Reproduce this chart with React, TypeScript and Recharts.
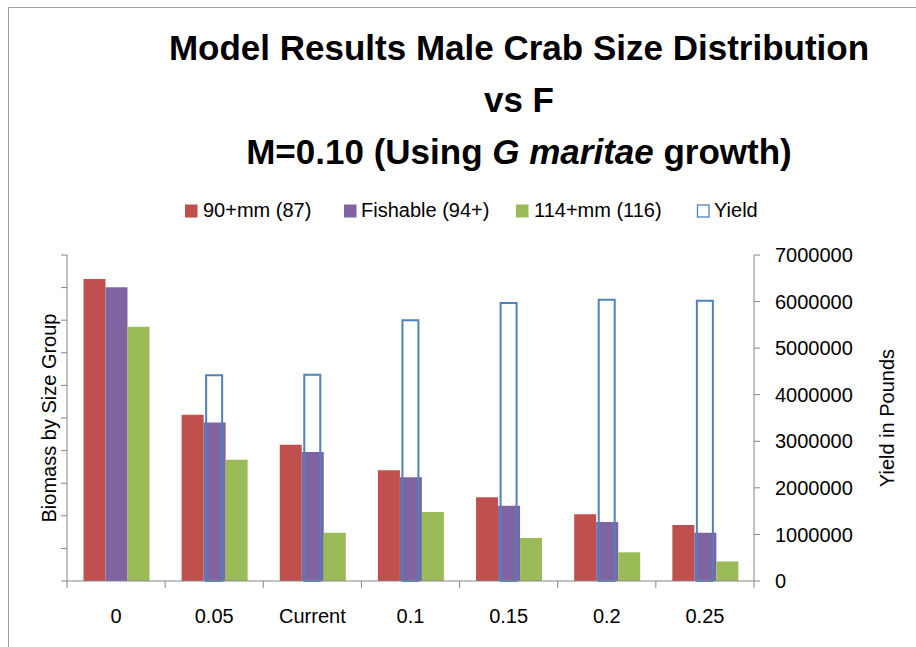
import React from "react"
import { BarChart, Bar, XAxis, YAxis } from "recharts"

const categories = ["0", "0.05", "Current", "0.1", "0.15", "0.2", "0.25"]
const biomass90 = [92.6, 51.0, 41.8, 34.0, 25.7, 20.5, 17.2]
const fishable94 = [90.1, 48.6, 39.6, 31.8, 23.1, 18.1, 14.8]
const biomass114 = [78.0, 37.2, 14.8, 21.2, 13.2, 8.8, 6.0]
const yieldLbs = [0, 4420000, 4430000, 5600000, 5970000, 6040000, 6020000]
const leftTicks = [0, 10, 20, 30, 40, 50, 60, 70, 80, 90, 100]
const rightTicks = [0, 1000000, 2000000, 3000000, 4000000, 5000000, 6000000, 7000000]

const data = categories.map((f, i) => ({
  f,
  b90: biomass90[i],
  fish: fishable94[i],
  b114: biomass114[i],
  yld: yieldLbs[i],
}))

const AXIS = "#868686"
const FONT = "'Liberation Sans', Arial, sans-serif"

const CatTick = (props: any) => {
  const { x, y, payload, index } = props
  const half = payload?.offset ?? 0
  return (
    <g>
      <line x1={x - half} y1={y} x2={x - half} y2={y + 7} stroke={AXIS} strokeWidth={1} />
      {index === categories.length - 1 && (
        <line x1={x + half} y1={y} x2={x + half} y2={y + 7} stroke={AXIS} strokeWidth={1} />
      )}
      <text x={x} y={y + 42} textAnchor="middle" fontSize={20} fontFamily={FONT} fill="#000">
        {payload.value}
      </text>
    </g>
  )
}

const legendItems = [
  { label: "90+mm (87)", color: "#C0504D", x: 185, tx: 203 },
  { label: "Fishable (94+)", color: "#8064A2", x: 344, tx: 361 },
  { label: "114+mm (116)", color: "#9BBB59", x: 516, tx: 534 },
]

export default function App() {
  return (
    <div style={{ position: "absolute", left: 0, top: 0, width: 916, height: 647, background: "#fff" }}>
      <BarChart
        width={916}
        height={647}
        data={data}
        margin={{ top: 255, right: 10, bottom: 16, left: 10 }}
        barGap={0}
        barCategoryGap="16.8%"
      >
        <XAxis
          xAxisId="cat"
          dataKey="f"
          height={50}
          interval={0}
          tickLine={false}
          tickSize={0}
          tickMargin={0}
          axisLine={{ stroke: AXIS }}
          tick={<CatTick />}
        />
        <XAxis xAxisId="yieldX" dataKey="f" hide />
        <YAxis
          yAxisId="left"
          width={57}
          domain={[0, 100]}
          ticks={leftTicks}
          interval={0}
          tickSize={6}
          tickFormatter={() => ""}
          axisLine={{ stroke: AXIS }}
          tickLine={{ stroke: AXIS }}
        />
        <YAxis
          yAxisId="right"
          orientation="right"
          width={152}
          domain={[0, 7000000]}
          ticks={rightTicks}
          interval={0}
          tickSize={6}
          tickMargin={15}
          axisLine={{ stroke: AXIS }}
          tickLine={{ stroke: AXIS }}
          tick={{ fontSize: 20, fontFamily: FONT, fill: "#000" }}
        />
        <Bar xAxisId="cat" yAxisId="left" dataKey="b90" fill="#C0504D" isAnimationActive={false} />
        <Bar xAxisId="cat" yAxisId="left" dataKey="fish" fill="#8064A2" isAnimationActive={false} />
        <Bar xAxisId="cat" yAxisId="left" dataKey="b114" fill="#9BBB59" isAnimationActive={false} />
        <Bar
          xAxisId="yieldX"
          yAxisId="right"
          dataKey="yld"
          barSize={16}
          fill="none"
          stroke="#4F81BD"
          strokeWidth={2}
          isAnimationActive={false}
        />
      </BarChart>

      <svg
        width={916}
        height={647}
        style={{ position: "absolute", left: 0, top: 0, pointerEvents: "none" }}
        fontFamily={FONT}
      >
        <line x1={8.5} y1={7.5} x2={916} y2={7.5} stroke="#a0a0a0" />
        <line x1={8.5} y1={7.5} x2={8.5} y2={647} stroke="#a0a0a0" />

        <g fontSize={35} fontWeight="bold" textAnchor="middle" fill="#000">
          <text x={519} y={60}>Model Results Male Crab Size Distribution</text>
          <text x={519} y={112}>vs F</text>
          <text x={519} y={164}>
            M=0.10 (Using <tspan fontStyle="italic">G maritae</tspan> growth)
          </text>
        </g>

        {legendItems.map(it => (
          <g key={it.label}>
            <rect x={it.x} y={204.5} width={12.5} height={13} fill={it.color} />
            <text x={it.tx} y={217} fontSize={20} fill="#000">{it.label}</text>
          </g>
        ))}
        <rect x={697.5} y={205} width={11.5} height={12} fill="none" stroke="#4F81BD" strokeWidth={1.3} />
        <text x={714} y={217} fontSize={20} fill="#000">Yield</text>

        <text
          transform="translate(49,418) rotate(-90)"
          textAnchor="middle"
          dominantBaseline="central"
          fontSize={20}
          fill="#000"
        >
          Biomass by Size Group
        </text>
        <text
          transform="translate(887,418) rotate(-90)"
          textAnchor="middle"
          dominantBaseline="central"
          fontSize={20}
          fill="#000"
        >
          Yield in Pounds
        </text>
      </svg>
    </div>
  )
}
